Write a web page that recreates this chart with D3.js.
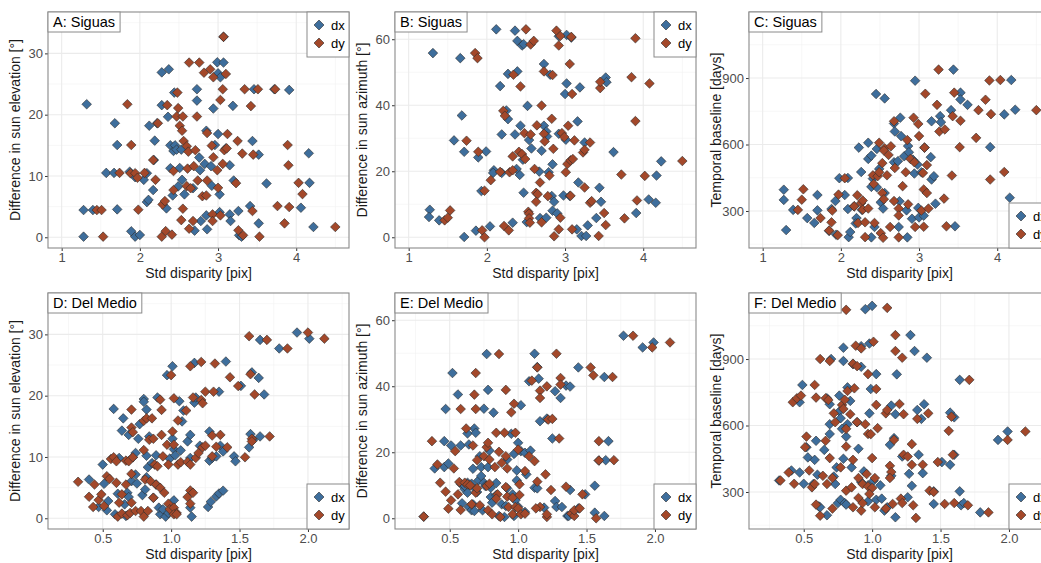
<!DOCTYPE html>
<html><head><meta charset="utf-8">
<script src="https://cdn.jsdelivr.net/npm/d3@7"></script>
<style>
body{margin:0;background:#fff}
svg{display:block}
text{font-family:"Liberation Sans",Arial,Helvetica,sans-serif}
</style>
</head><body>
<svg id="chart" width="1041" height="563"></svg>
<script>
// ---- Siguas: [std disparity, difference] pairs ----
const siguasElevDx = [[1.32,21.7],[1.28,4.44],[1.40,4.44],[1.28,0.1],[1.68,18.6],[1.71,15.05],[1.57,10.5],[1.67,10.5],[1.71,4.55],[1.89,0.97],[1.94,0.1],[2.0,0.38],[1.87,10.7],[1.94,9.8],[2.05,9.37],[2.09,10.45],[2.09,5.74],[2.11,6.1],[2.12,18.2],[2.17,7.7],[2.19,15.76],[2.18,12.6],[2.22,18.6],[2.28,26.9],[2.37,27.4],[2.28,21.55],[2.36,19.65],[2.39,15],[2.39,11.26],[2.34,4.71],[2.42,6.82],[2.44,23.6],[2.43,14.08],[2.45,15],[2.47,14.3],[2.53,14.3],[2.51,11.3],[2.54,9.37],[2.57,7],[2.49,8.3],[2.68,8.0],[2.70,1.08],[2.73,24.15],[2.73,22.3],[2.76,13],[2.77,10.94],[2.78,2.65],[2.83,11.97],[2.85,17.38],[2.85,3.57],[2.86,1.3],[2.91,11.6],[2.94,21.0],[2.92,8.4],[2.96,15.05],[2.99,28.54],[3.07,28.5],[3.0,26.75],[3.03,26.1],[3.0,16.84],[3.02,7],[3.02,4.1],[3.07,32.7],[3.10,14.5],[3.15,11.75],[3.15,3.73],[3.16,2.65],[3.19,21.44],[3.20,9.26],[3.26,4.28],[3.27,0.32],[3.30,0.1],[3.41,5.09],[3.44,15.7],[3.46,24.15],[3.52,13.48],[3.52,2.27],[3.62,8.77],[3.72,24.15],[3.91,24.04],[4.06,4.82],[4.16,13.7],[4.17,8.88],[4.22,1.68]];
const siguasElevDy = [[1.45,4.44],[1.51,4.44],[1.53,0.1],[1.74,10.5],[1.84,21.7],[1.89,15.05],[1.88,10.45],[1.94,10.45],[1.97,9.7],[1.98,4.5],[2.06,10.5],[2.17,12.6],[2.20,9.37],[2.23,18.6],[2.35,21.55],[2.29,5.36],[2.32,5.9],[2.28,0.1],[2.33,1.0],[2.41,0.43],[2.43,10.8],[2.43,7.7],[2.48,23.6],[2.49,21.07],[2.47,19.7],[2.55,19.7],[2.51,18.2],[2.54,17.38],[2.55,4.66],[2.53,2.8],[2.56,15.7],[2.60,14.84],[2.62,13.97],[2.61,11.2],[2.60,8.34],[2.63,28.5],[2.65,8.0],[2.63,1.4],[2.68,2.65],[2.69,11.6],[2.71,14.2],[2.73,19.7],[2.74,9.26],[2.76,28.5],[2.80,6.7],[2.82,26.85],[2.85,6.82],[2.86,17],[2.86,9.26],[2.90,27.4],[2.94,26.1],[2.92,14.95],[2.94,13.05],[2.93,3.73],[2.93,2.65],[2.99,10.94],[3.0,8.07],[3.03,22.4],[3.06,24.15],[3.06,11.97],[3.03,3.57],[3.07,32.7],[3.10,26.64],[3.08,14.2],[3.11,14.5],[3.12,16.84],[3.23,8.83],[3.25,15.7],[3.26,1.14],[3.31,13.65],[3.32,0.32],[3.34,24.15],[3.42,21.4],[3.44,4.28],[3.45,13.48],[3.51,24.15],[3.53,0.1],[3.73,24.15],[3.76,5.09],[3.85,2.27],[3.89,15.05],[3.90,11.75],[3.91,4.93],[4.03,8.88],[4.08,7.04],[4.50,1.68]];
const siguasAzimDx = [[1.31,55.8],[1.27,8.34],[1.26,6.13],[1.39,5.13],[1.58,29.35],[1.66,54.27],[1.68,36.9],[1.71,25.9],[1.71,0.1],[1.86,2.0],[1.89,24.2],[1.93,14.0],[1.99,26.0],[2.04,3.3],[2.09,20.3],[2.08,19.5],[2.12,63.0],[2.17,45.8],[2.19,31.15],[2.19,19.5],[2.27,49.5],[2.27,35.8],[2.25,38.4],[2.33,4.42],[2.36,62.6],[2.36,31.15],[2.39,50.25],[2.39,59.5],[2.42,18.9],[2.38,20.7],[2.43,33.8],[2.45,58.1],[2.47,58.5],[2.46,23.5],[2.47,13.5],[2.52,39.8],[2.54,29.45],[2.57,26.9],[2.51,4.6],[2.73,52.5],[2.73,33.8],[2.76,32.06],[2.77,30.55],[2.79,19.7],[2.67,19.9],[2.70,26.2],[2.68,5.83],[2.76,5.93],[2.81,49.25],[2.84,22.1],[2.83,12.5],[2.86,10.75],[2.84,8.04],[2.90,7.24],[2.92,31.35],[2.92,60.9],[3.02,61.3],[3.0,43.4],[3.02,46.6],[2.98,12.66],[3.01,29.55],[3.06,12.5],[3.08,60.5],[3.16,35.1],[3.17,16.6],[3.15,2.4],[3.19,45.4],[3.21,0.4],[3.25,28.7],[3.27,0.4],[3.29,3.6],[3.40,5.83],[3.44,15],[3.46,10.75],[3.52,48.4],[3.53,47],[3.62,25.8],[3.91,7.34],[4.07,11.46],[4.16,10.45],[4.17,18.7],[4.23,23.0]];
const siguasAzimDy = [[1.46,5.13],[1.50,5.93],[1.53,8.14],[1.74,29.25],[1.85,55.8],[1.88,54.27],[1.89,25.9],[1.94,2.1],[1.97,0],[1.97,14.1],[2.05,17.3],[2.17,19.8],[2.22,3.42],[2.28,2.1],[2.21,38.3],[2.23,36.8],[2.29,19.7],[2.33,24.5],[2.33,20.3],[2.34,49.25],[2.43,45.7],[2.41,25.9],[2.45,25.2],[2.48,31.55],[2.49,23.7],[2.50,63.0],[2.53,7.74],[2.54,7.13],[2.54,5.73],[2.55,4.42],[2.56,58.4],[2.60,59.5],[2.56,31.15],[2.61,20.7],[2.63,13.47],[2.65,13.07],[2.64,33.9],[2.63,10.75],[2.68,16.6],[2.70,4.52],[2.70,39.9],[2.73,50.25],[2.73,31.35],[2.74,29.05],[2.78,12.46],[2.80,18.7],[2.83,35.9],[2.84,49.15],[2.85,26.8],[2.86,0.3],[2.89,62.6],[2.92,58.1],[2.94,61.0],[2.92,2.4],[2.94,5.93],[2.96,31.55],[2.99,30.35],[3.01,19.7],[3.04,33.8],[3.03,22.2],[3.07,23.3],[3.06,52.5],[3.07,12.56],[3.08,60.7],[3.09,43.4],[3.09,2.4],[3.10,23.7],[3.12,29.35],[3.23,25.7],[3.25,26.5],[3.25,15.07],[3.32,10.45],[3.34,10.95],[3.32,28.7],[3.45,45.2],[3.45,47.1],[3.43,0.4],[3.50,7.34],[3.52,3.7],[3.72,19.0],[3.76,5.73],[3.85,48.5],[3.90,60.3],[3.90,35.2],[3.92,11.16],[4.02,18.6],[4.08,46.6],[4.50,23.1]];
const siguasBaseDx = [[1.27,396],[1.27,350],[1.30,214],[1.39,305],[1.57,268],[1.66,246],[1.70,372],[1.70,303],[1.88,309],[1.85,210],[1.93,345],[1.98,448],[1.94,193],[2.05,372],[2.09,449],[2.09,309],[2.10,182],[2.12,205],[2.17,321],[2.20,268],[2.19,244],[2.23,586],[2.26,476],[2.27,305],[2.35,608],[2.35,535],[2.39,550],[2.39,409],[2.39,181],[2.41,446],[2.43,228],[2.45,828],[2.46,580],[2.46,407],[2.49,490],[2.51,339],[2.54,311],[2.56,808],[2.56,381],[2.68,520],[2.68,695],[2.69,659],[2.73,525],[2.74,228],[2.76,721],[2.77,638],[2.75,344],[2.81,547],[2.84,303],[2.85,181],[2.86,593],[2.87,565],[2.91,265],[2.92,532],[2.94,469],[2.95,888],[2.98,510],[2.99,314],[3.0,271],[3.03,475],[3.06,279],[3.07,586],[3.15,543],[3.16,442],[3.16,705],[3.19,457],[3.21,333],[3.27,728],[3.28,701],[3.41,755],[3.44,938],[3.46,231],[3.53,834],[3.53,803],[3.62,779],[3.91,588],[4.09,736],[4.18,891],[4.16,360],[4.23,757]];
const siguasBaseDy = [[1.45,305],[1.52,398],[1.50,351],[1.74,268],[1.85,212],[1.88,249],[1.89,302],[1.97,374],[1.96,191],[2.05,448],[2.17,321],[2.21,371],[2.22,246],[2.26,336],[2.28,306],[2.31,182],[2.28,347],[2.31,249],[2.35,311],[2.41,461],[2.43,246],[2.42,422],[2.47,457],[2.49,608],[2.49,475],[2.53,381],[2.53,516],[2.56,583],[2.55,573],[2.55,353],[2.51,200],[2.54,179],[2.59,461],[2.61,553],[2.64,592],[2.63,228],[2.69,494],[2.68,345],[2.68,705],[2.74,311],[2.74,280],[2.74,181],[2.79,412],[2.83,475],[2.85,620],[2.86,330],[2.89,535],[2.93,721],[2.94,520],[2.95,228],[2.99,693],[3.0,638],[3.03,302],[3.05,472],[3.06,397],[3.07,586],[3.08,829],[3.10,507],[3.10,381],[3.06,229],[3.12,311],[3.23,779],[3.26,659],[3.25,938],[3.33,668],[3.32,356],[3.35,231],[3.43,728],[3.42,460],[3.45,834],[3.53,707],[3.52,588],[3.73,630],[3.76,755],[3.85,802],[3.91,442],[3.92,737],[3.90,889],[4.04,891],[4.09,476],[4.50,755]];

// ---- Del Medio: [std disparity, difference] pairs ----
const medioElevDx = [[0.40,6.32],[0.47,1.84],[0.50,8.76],[0.51,5.62],[0.53,1.3],[0.54,2.81],[0.58,17.84],[0.59,0.65],[0.61,4.0],[0.62,9.84],[0.65,16.3],[0.64,14.3],[0.66,2.27],[0.67,0.38],[0.68,4.16],[0.69,13.6],[0.69,3.46],[0.71,6.05],[0.72,9.95],[0.74,10.65],[0.74,7.13],[0.75,5.68],[0.76,12.97],[0.77,15.35],[0.79,3.78],[0.80,19.46],[0.80,19.0],[0.81,4.7],[0.82,10.2],[0.82,17.73],[0.82,6.7],[0.83,8.32],[0.84,13.35],[0.86,9.0],[0.87,3.35],[0.89,5.5],[0.89,10.27],[0.90,19.7],[0.92,0.65],[0.91,1.73],[0.94,1.46],[0.96,0.27],[0.97,23.35],[0.99,9.73],[0.98,0.86],[1.01,24.8],[1.01,12.97],[1.02,11.24],[1.02,2.92],[1.03,10.27],[1.06,19.1],[1.07,11.08],[1.08,15.8],[1.09,17.57],[1.12,12.54],[1.14,13.6],[1.14,9.84],[1.14,1.73],[1.15,0.27],[1.17,25.35],[1.17,18.86],[1.18,19.7],[1.21,11.84],[1.27,1.84],[1.28,14.16],[1.29,2.7],[1.28,9.4],[1.30,9.84],[1.33,10.1],[1.33,3.57],[1.35,4.05],[1.35,20.65],[1.36,11.84],[1.38,4.5],[1.38,10.9],[1.40,25.57],[1.46,10.1],[1.47,9.3],[1.51,21.6],[1.57,11.57],[1.58,13.73],[1.59,23.8],[1.60,12.8],[1.65,29.1],[1.64,22.9],[1.65,13.35],[1.68,20.2],[1.79,27.7],[1.92,30.3],[2.01,29.3]];
const medioElevDy = [[0.32,5.95],[0.40,3.51],[0.44,5.5],[0.43,1.84],[0.47,2.97],[0.49,3.9],[0.51,2.0],[0.53,6.86],[0.55,6.43],[0.56,9.68],[0.58,9.95],[0.60,5.78],[0.60,9.3],[0.61,0.27],[0.62,2.54],[0.64,3.9],[0.64,0.76],[0.67,9.4],[0.67,5.5],[0.68,0.49],[0.69,9.3],[0.70,0.86],[0.71,17.73],[0.71,14.8],[0.72,14.05],[0.71,7.24],[0.72,9.95],[0.71,2.54],[0.74,1.19],[0.78,1.19],[0.80,11.13],[0.80,15.9],[0.81,6.32],[0.80,0.27],[0.82,16.3],[0.83,1.19],[0.84,12.8],[0.85,6.05],[0.86,16.3],[0.87,12.97],[0.87,3.35],[0.88,8.76],[0.89,5.5],[0.90,8.49],[0.92,4.97],[0.92,19.35],[0.93,17.68],[0.93,13.6],[0.94,10.1],[0.95,4.16],[0.97,12.0],[0.98,2.38],[0.98,8.76],[0.99,1.46],[1.0,23.35],[1.01,14.16],[1.02,19.57],[1.02,1.73],[1.02,12.0],[1.04,0.86],[1.02,0.65],[1.04,0.65],[1.05,8.76],[1.05,15.95],[1.07,9.14],[1.11,17.57],[1.12,3.46],[1.12,9.19],[1.14,24.8],[1.14,4.54],[1.14,2.38],[1.14,8.76],[1.16,19.7],[1.16,4.16],[1.18,9.84],[1.20,10.65],[1.22,19.3],[1.22,25.5],[1.23,18.76],[1.23,11.57],[1.25,11.84],[1.25,20.65],[1.30,13.5],[1.30,10.1],[1.31,20.65],[1.32,25.24],[1.33,11.68],[1.36,13.6],[1.41,11.57],[1.43,23.0],[1.49,21.57],[1.54,9.95],[1.57,29.7],[1.58,23.5],[1.59,12.97],[1.61,20.2],[1.59,12.54],[1.70,29.1],[1.72,13.35],[1.85,27.7],[2.0,30.3],[2.12,29.3]];
const medioAzimDx = [[0.31,0.5],[0.39,15.1],[0.46,23.36],[0.47,33.1],[0.46,15.5],[0.49,16.6],[0.52,44.0],[0.51,22.05],[0.56,37.5],[0.58,22.05],[0.58,10.47],[0.59,4.53],[0.61,8.76],[0.61,9.77],[0.63,7.75],[0.63,10.78],[0.64,3.42],[0.66,2.42],[0.66,10.47],[0.64,22.36],[0.63,25.7],[0.67,15.0],[0.67,4.23],[0.68,27.2],[0.69,25.9],[0.68,2.2],[0.69,8.76],[0.70,7.95],[0.71,11.48],[0.72,18.8],[0.73,12.8],[0.73,15.5],[0.74,2.42],[0.75,33.2],[0.75,10.78],[0.76,9.77],[0.77,49.75],[0.78,38.9],[0.78,15.5],[0.79,20.5],[0.80,9.26],[0.80,6.44],[0.81,4.73],[0.82,32.0],[0.84,10.67],[0.84,7.05],[0.86,0.7],[0.88,4.23],[0.90,0.4],[0.91,3.72],[0.92,9.06],[0.92,17.8],[0.95,25.6],[0.96,7.25],[0.97,19.5],[0.97,0.7],[0.98,5.44],[0.99,14.5],[0.99,11.48],[1.0,22.86],[1.0,3.52],[1.02,20.34],[1.02,34.24],[1.05,19.84],[1.05,1.91],[1.06,13.3],[1.09,20.5],[1.08,41.5],[1.12,49.85],[1.12,9.26],[1.14,9.06],[1.14,45.8],[1.15,42.3],[1.16,29.4],[1.19,3.22],[1.27,38.47],[1.27,5.24],[1.28,3.42],[1.25,24.17],[1.21,30.2],[1.31,36.45],[1.32,3.42],[1.35,40.2],[1.38,39.9],[1.36,0.7],[1.37,0.7],[1.38,8.56],[1.44,45.7],[1.44,3.0],[1.49,7.25],[1.56,9.87],[1.56,1.7],[1.63,0.7],[1.59,17.5],[1.63,42.8],[1.64,17.6],[1.66,23.36],[1.77,55.3],[1.91,51.76],[1.99,53.27]];
const medioAzimDy = [[0.31,0.5],[0.37,23.36],[0.41,16.3],[0.43,10.78],[0.47,8.06],[0.49,2.92],[0.51,5.44],[0.53,15.1],[0.54,20.34],[0.56,7.25],[0.58,2.52],[0.57,10.98],[0.58,33.1],[0.61,10.78],[0.62,27.2],[0.63,10.27],[0.65,9.97],[0.67,22.05],[0.66,4.23],[0.69,44.0],[0.68,37.46],[0.69,33.1],[0.69,7.75],[0.70,9.06],[0.72,3.93],[0.70,17.6],[0.75,18.8],[0.77,21.55],[0.78,22.86],[0.79,17.8],[0.77,9.77],[0.78,2.42],[0.79,10.47],[0.81,1.2],[0.83,15.5],[0.84,25.9],[0.85,7.25],[0.84,5.94],[0.86,49.75],[0.86,20.14],[0.88,16.8],[0.87,0.4],[0.90,25.9],[0.91,38.9],[0.91,9.47],[0.91,18.8],[0.92,6.55],[0.92,15.1],[0.93,3.42],[0.95,32.1],[0.96,6.24],[0.96,1.2],[0.98,25.9],[0.97,34.7],[0.98,3.42],[1.0,3.0],[1.01,10.27],[1.01,7.05],[1.02,1.2],[1.0,20.8],[1.05,1.4],[1.05,14.3],[1.08,18.8],[1.10,41.7],[1.12,17.3],[1.14,45.7],[1.14,11.1],[1.16,38.67],[1.16,36.45],[1.16,3.42],[1.13,3.0],[1.21,39.97],[1.20,13.3],[1.21,0.4],[1.21,1.2],[1.22,29.9],[1.25,30.1],[1.24,8.56],[1.28,49.85],[1.30,24.17],[1.31,42.5],[1.31,40.5],[1.35,9.57],[1.39,1.4],[1.41,0.7],[1.41,2.42],[1.45,3.0],[1.47,7.25],[1.53,45.7],[1.55,43.3],[1.57,0],[1.59,17.5],[1.59,23.36],[1.69,42.8],[1.70,17.6],[1.84,55.3],[1.98,51.76],[2.11,53.27]];
const medioBaseDx = [[0.32,352],[0.41,397],[0.47,388],[0.47,705],[0.49,783],[0.50,337],[0.52,502],[0.53,456],[0.57,336],[0.58,445],[0.59,531],[0.60,378],[0.61,235],[0.62,231],[0.65,490],[0.67,723],[0.67,195],[0.69,562],[0.69,606],[0.69,696],[0.70,900],[0.72,370],[0.73,336],[0.74,411],[0.75,250],[0.76,735],[0.76,663],[0.77,633],[0.77,265],[0.79,450],[0.79,951],[0.78,585],[0.79,891],[0.80,250],[0.81,243],[0.81,550],[0.82,772],[0.82,606],[0.84,711],[0.85,411],[0.86,877],[0.89,615],[0.90,495],[0.92,865],[0.92,345],[0.92,958],[0.94,393],[0.95,1125],[0.97,330],[0.97,258],[0.98,970],[0.98,655],[0.99,765],[1.0,1140],[1.01,351],[1.03,832],[1.03,265],[1.06,330],[1.07,270],[1.09,216],[1.11,231],[1.13,513],[1.14,690],[1.14,373],[1.16,543],[1.17,186],[1.17,651],[1.18,831],[1.22,460],[1.26,276],[1.27,382],[1.28,1008],[1.29,328],[1.31,936],[1.33,670],[1.34,468],[1.36,630],[1.37,385],[1.38,696],[1.40,906],[1.45,246],[1.45,303],[1.51,435],[1.57,423],[1.57,658],[1.60,637],[1.60,468],[1.64,303],[1.64,806],[1.65,240],[1.67,250],[1.79,208],[1.92,535],[1.99,573]];
const medioBaseDy = [[0.33,352],[0.39,388],[0.43,337],[0.42,705],[0.45,723],[0.48,735],[0.51,502],[0.52,550],[0.54,397],[0.56,321],[0.58,336],[0.58,783],[0.59,726],[0.59,243],[0.62,193],[0.62,900],[0.64,373],[0.66,723],[0.66,531],[0.67,336],[0.68,715],[0.69,891],[0.69,453],[0.71,225],[0.72,655],[0.73,615],[0.71,363],[0.77,411],[0.78,693],[0.79,675],[0.80,716],[0.81,1122],[0.81,585],[0.81,505],[0.81,306],[0.82,756],[0.84,651],[0.85,321],[0.86,879],[0.86,445],[0.87,768],[0.86,231],[0.89,868],[0.88,960],[0.89,615],[0.90,363],[0.90,273],[0.92,948],[0.92,216],[0.93,336],[0.93,250],[0.95,606],[0.96,381],[0.97,325],[0.97,562],[0.97,832],[1.0,453],[0.99,561],[1.0,318],[1.01,978],[1.02,363],[1.03,765],[1.03,693],[1.02,231],[1.04,588],[0.98,291],[1.11,1131],[1.10,655],[1.11,670],[1.10,225],[1.13,418],[1.14,390],[1.13,363],[1.15,246],[1.16,535],[1.17,1008],[1.17,936],[1.20,697],[1.21,270],[1.22,250],[1.23,651],[1.22,906],[1.23,468],[1.26,460],[1.29,516],[1.29,423],[1.30,240],[1.32,183],[1.33,630],[1.37,423],[1.41,655],[1.42,306],[1.45,300],[1.48,435],[1.53,246],[1.56,576],[1.58,640],[1.59,468],[1.60,250],[1.70,240],[1.71,806],[1.85,208],[1.99,535],[2.12,573]];

// ---- labels ----
const seriesNames = ["dx", "dy"];
const panelLabels = ["A: Siguas", "B: Siguas", "C: Siguas", "D: Del Medio", "E: Del Medio", "F: Del Medio"];
const xTitle = "Std disparity [pix]";
const yTitles = ["Difference in sun elevation [°]", "Difference in sun azimuth [°]", "Temporal baseline [days]"];
const xTicksSiguas = [1, 2, 3, 4];
const xTicksMedio = [0.5, 1.0, 1.5, 2.0];
const yTicksElev = [0, 10, 20, 30];
const yTicksAzim = [0, 20, 40, 60];
const yTicksBase = [300, 600, 900];

// ---- styling ----
const colors = ["#3e6e9c", "#a3482a"];
const font = '"Liberation Sans", Arial, Helvetica, sans-serif';
const colLeft = [48, 395, 749];
const rowTop = [12, 293];
const plotW = 301, plotH = 236;

const mids = t => t.slice(0, -1).map((v, i) => (v + t[i + 1]) / 2);
const withEnds = (t) => {
  const step = t[1] - t[0];
  return [t[0] - step / 2, ...mids(t), t[t.length - 1] + step / 2];
};

const xSig = { domain: [0.825, 4.675], ticks: xTicksSiguas, fmt: d3.format("d") };
const xMed = { domain: [0.1, 2.3], ticks: xTicksMedio, fmt: d3.format(".1f") };
const yElev = { domain: [-1.75, 36.75], ticks: yTicksElev, title: yTitles[0] };
const yAzim = { domain: [-3.25, 68.25], ticks: yTicksAzim, title: yTitles[1] };
const yBase = { domain: [133, 1198], ticks: yTicksBase, title: yTitles[2] };

const panels = [
  { label: panelLabels[0], col: 0, row: 0, x: xSig, y: yElev, legend: "top", data: [siguasElevDx, siguasElevDy] },
  { label: panelLabels[1], col: 1, row: 0, x: xSig, y: yAzim, legend: "top", data: [siguasAzimDx, siguasAzimDy] },
  { label: panelLabels[2], col: 2, row: 0, x: xSig, y: yBase, legend: "bottom", data: [siguasBaseDx, siguasBaseDy] },
  { label: panelLabels[3], col: 0, row: 1, x: xMed, y: yElev, legend: "bottom", data: [medioElevDx, medioElevDy] },
  { label: panelLabels[4], col: 1, row: 1, x: xMed, y: yAzim, legend: "bottom", data: [medioAzimDx, medioAzimDy] },
  { label: panelLabels[5], col: 2, row: 1, x: xMed, y: yBase, legend: "bottom", data: [medioBaseDx, medioBaseDy] }
];

const svg = d3.select("#chart");
const diamond = r => `M0,${-r}L${r},0L0,${r}L${-r},0Z`;

panels.forEach((p, pi) => {
  const left = colLeft[p.col], top = rowTop[p.row];
  const g = svg.append("g").attr("transform", `translate(${left},${top})`);
  const x = d3.scaleLinear().domain(p.x.domain).range([0, plotW]);
  const y = d3.scaleLinear().domain(p.y.domain).range([plotH, 0]);

  const clipId = "clip" + pi;
  g.append("clipPath").attr("id", clipId).append("rect").attr("width", plotW).attr("height", plotH);

  // minor and major grid
  const xMinor = withEnds(p.x.ticks).filter(v => v > p.x.domain[0] && v < p.x.domain[1]);
  const yMinor = withEnds(p.y.ticks).filter(v => v > p.y.domain[0] && v < p.y.domain[1]);
  const grid = g.append("g");
  grid.selectAll(".xm").data(xMinor).join("line")
    .attr("x1", d => x(d)).attr("x2", d => x(d)).attr("y1", 0).attr("y2", plotH)
    .attr("stroke", "#f2f2f2").attr("stroke-width", 0.6);
  grid.selectAll(".ym").data(yMinor).join("line")
    .attr("y1", d => y(d)).attr("y2", d => y(d)).attr("x1", 0).attr("x2", plotW)
    .attr("stroke", "#f2f2f2").attr("stroke-width", 0.6);
  grid.selectAll(".xM").data(p.x.ticks).join("line")
    .attr("x1", d => x(d)).attr("x2", d => x(d)).attr("y1", 0).attr("y2", plotH)
    .attr("stroke", "#ebebeb").attr("stroke-width", 1.1);
  grid.selectAll(".yM").data(p.y.ticks).join("line")
    .attr("y1", d => y(d)).attr("y2", d => y(d)).attr("x1", 0).attr("x2", plotW)
    .attr("stroke", "#ebebeb").attr("stroke-width", 1.1);

  // points
  const pts = g.append("g").attr("clip-path", `url(#${clipId})`);
  p.data.forEach((series, si) => {
    pts.append("g").selectAll("path").data(series).join("path")
      .attr("d", diamond(4.8))
      .attr("transform", d => `translate(${x(d[0])},${y(d[1])})`)
      .attr("fill", colors[si])
      .attr("stroke", "#2b2b2b").attr("stroke-width", 0.6);
  });

  // axes
  const xAxis = g.append("g").attr("transform", `translate(0,${plotH})`)
    .call(d3.axisBottom(x).tickValues(p.x.ticks).tickFormat(p.x.fmt).tickSize(3).tickPadding(2));
  const yAxis = g.append("g")
    .call(d3.axisLeft(y).tickValues(p.y.ticks).tickSize(3).tickPadding(2));
  [xAxis, yAxis].forEach(a => {
    a.select(".domain").remove();
    a.selectAll(".tick line").attr("stroke", "#333");
    a.selectAll(".tick text").attr("fill", "#4d4d4d").attr("font-size", 13).attr("font-family", font);
  });

  // panel border
  g.append("rect").attr("width", plotW).attr("height", plotH)
    .attr("fill", "none").attr("stroke", "#8a8a8a").attr("stroke-width", 1.1);

  // axis titles
  g.append("text").attr("x", plotW / 2).attr("y", plotH + 30)
    .attr("text-anchor", "middle").attr("font-size", 14).attr("fill", "#1a1a1a")
    .text(xTitle);
  g.append("text")
    .attr("transform", `translate(${-28},${plotH / 2}) rotate(-90)`)
    .attr("text-anchor", "middle").attr("font-size", 14).attr("fill", "#1a1a1a")
    .text(p.y.title);

  // panel label box
  const lab = g.append("g");
  const lt = lab.append("text").attr("x", 5).attr("y", 15)
    .attr("font-size", 14.5).attr("fill", "#000").text(p.label);
  const lw = lt.node().getComputedTextLength();
  lab.insert("rect", "text").attr("x", 0).attr("y", 0)
    .attr("width", lw + 10).attr("height", 20)
    .attr("fill", "#fff").attr("stroke", "#8a8a8a").attr("stroke-width", 1);

  // legend box
  const lgW = 42, lgH = 45;
  const lgX = plotW - lgW + (p.col === 2 ? 1 : 0);
  const lgY = p.legend === "top" ? 0 : plotH - lgH;
  const lg = g.append("g").attr("transform", `translate(${lgX},${lgY})`);
  lg.append("rect").attr("width", lgW).attr("height", lgH)
    .attr("fill", "#fff").attr("stroke", "#8a8a8a").attr("stroke-width", 1);
  seriesNames.forEach((name, si) => {
    const cy = 13 + si * 18;
    lg.append("path").attr("d", diamond(5))
      .attr("transform", `translate(12,${cy})`)
      .attr("fill", colors[si]).attr("stroke", "#2b2b2b").attr("stroke-width", 0.6);
    lg.append("text").attr("x", 24).attr("y", cy + 4.5)
      .attr("font-size", 13).attr("fill", "#000").text(name);
  });
});

svg.selectAll("text").attr("font-family", font);
</script>
</body></html>
